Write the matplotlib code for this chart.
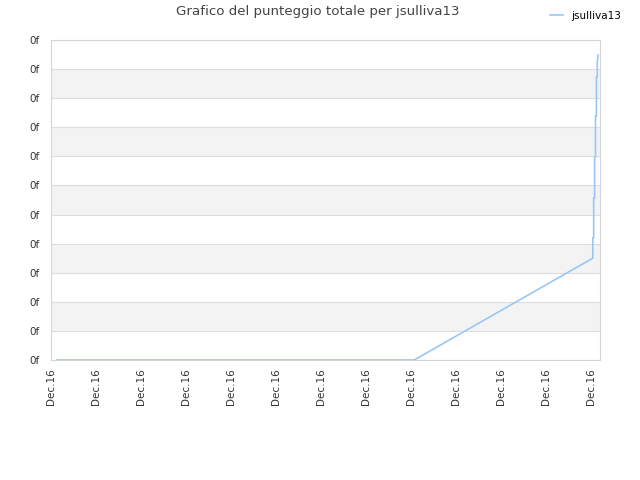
import numpy as np
import matplotlib.pyplot as plt

# dati del punteggio (asse x in unità di tick)
tempo = [0.13, 8.07, 12.04, 12.04, 12.06, 12.06, 12.08, 12.08, 12.10, 12.10, 12.12, 12.12, 12.14, 12.14, 12.16]
punteggio = [0, 0, 3.5, 4.2, 4.2, 5.57, 5.57, 6.98, 6.98, 8.38, 8.38, 9.73, 9.73, 10.25, 10.48]
etichette_x = ['Dec.16'] * 13
etichette_y = ['0f'] * 12

fig = plt.figure(figsize=(6.4, 4.8), dpi=100)
ax = fig.add_axes([51 / 640, 120 / 480, 549 / 640, 320 / 480])

# bande alternate
for k in range(1, 11, 2):
    ax.axhspan(k, k + 1, color='#f3f3f3', zorder=0, lw=0)

ax.plot(tempo, punteggio, color='#99c7f5', lw=1.2, label='jsulliva13', zorder=3)

ax.set_xlim(0, 12.2)
ax.set_ylim(0, 11)
ax.set_yticks(range(12))
ax.set_yticklabels(etichette_y)
ax.set_xticks(range(13))
ax.set_xticklabels(etichette_x, rotation=90)
ax.grid(axis='y', color='#dddddd', lw=0.8)
ax.set_axisbelow(True)
for s in ax.spines.values():
    s.set_color('#d5d5d5')
ax.tick_params(axis='x', length=0, labelsize=7.5, colors='#333333', pad=6)
ax.tick_params(axis='y', length=0, labelsize=7.5, colors='#333333', pad=8)

fig.text(0.497, 0.99, 'Grafico del punteggio totale per jsulliva13', ha='center', va='top',
         fontsize=9.6, color='#444444')
fig.legend(loc='upper right', bbox_to_anchor=(0.985, 0.997), frameon=False, fontsize=7.5,
           handlelength=1.2)

plt.savefig('out.png')
